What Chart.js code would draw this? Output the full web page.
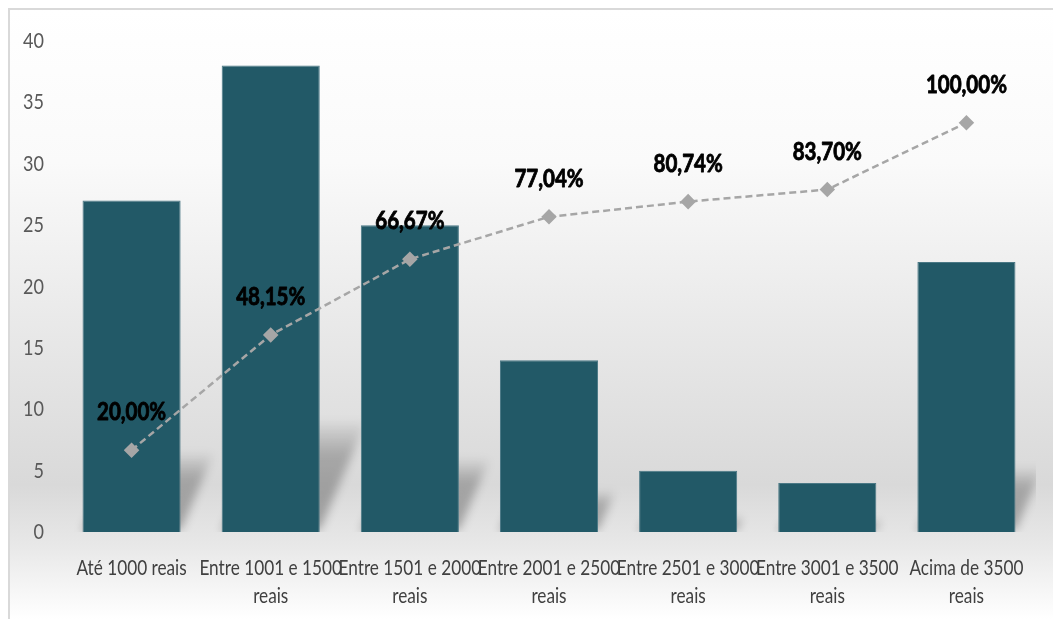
<!DOCTYPE html>
<html>
  <head>
    <meta charset="UTF-8" />
    <title>faixa de renda</title>
    <script src="https://cdn.jsdelivr.net/npm/chart.js@4"></script>
    <style>
      body { margin: 0; background: #fff; }
      #box { position: absolute; left: 8px; top: 8px; width: 1045px; height: 611px; border-top: 2px solid #d9d9d9; border-left: 2px solid #d9d9d9; }
    </style>
  </head>
  <body>
    <div id="box"><canvas id="chart" width="1043" height="609"></canvas></div>
    <script>
      const categories = [
        ['Até 1000 reais'],
        ['Entre 1001 e 1500', 'reais'],
        ['Entre 1501 e 2000', 'reais'],
        ['Entre 2001 e 2500', 'reais'],
        ['Entre 2501 e 3000', 'reais'],
        ['Entre 3001 e 3500', 'reais'],
        ['Acima de 3500', 'reais']
      ]
      const counts = [27, 38, 25, 14, 5, 4, 22]
      const cumulative = [20.00, 48.15, 66.67, 77.04, 80.74, 83.70, 100.00]
      const yTicks = [0, 5, 10, 15, 20, 25, 30, 35, 40]

      const FONT = "Lato, 'Open Sans', sans-serif"
      // the original text is a narrow (Calibri like) face, so text is squeezed a bit
      const SQUEEZE = 0.82

      const narrowText = {
        id: 'narrowText',
        beforeInit(chart) {
          const ctx = chart.ctx
          const fill = ctx.fillText.bind(ctx)
          const stroke = ctx.strokeText.bind(ctx)
          ctx.fillText = function (text, x, y, maxWidth) {
            const w = ctx.measureText(text).width * SQUEEZE
            fill(text, x, y, maxWidth ? Math.min(maxWidth, w) : w)
          }
          ctx.strokeText = function (text, x, y, maxWidth) {
            const w = ctx.measureText(text).width * SQUEEZE
            stroke(text, x, y, maxWidth ? Math.min(maxWidth, w) : w)
          }
        }
      }

      // gray gradient backdrop of the chart
      const backdrop = {
        id: 'backdrop',
        beforeDraw(chart) {
          const ctx = chart.ctx
          const h = chart.height
          const g = ctx.createLinearGradient(0, 0, 0, h)
          g.addColorStop(0, '#ffffff')
          g.addColorStop(0.25, '#fafafa')
          g.addColorStop(0.5, '#eaeaea')
          g.addColorStop(0.78, '#d9d9d9')
          g.addColorStop(0.88, '#e8e8e8')
          g.addColorStop(1, '#ffffff')
          ctx.save()
          ctx.fillStyle = g
          ctx.fillRect(0, 0, chart.width, h)
          ctx.restore()
        }
      }

      // soft perspective shadow behind every bar
      const barShadow = {
        id: 'barShadow',
        beforeDatasetsDraw(chart) {
          const ctx = chart.ctx
          const area = chart.chartArea
          const meta = chart.getDatasetMeta(0)
          ctx.save()
          ctx.beginPath()
          ctx.rect(area.left, area.top, area.right - area.left, area.bottom - area.top)
          ctx.clip()
          ctx.filter = 'blur(5px)'
          meta.data.forEach(function (bar) {
            const x0 = bar.x - bar.width / 2
            const x1 = bar.x + bar.width / 2
            const base = bar.base
            const sh = (base - bar.y) * 0.235
            const dx = sh * 0.42
            const g = ctx.createLinearGradient(0, base, 0, base - sh)
            g.addColorStop(0, 'rgba(0,0,0,0.30)')
            g.addColorStop(0.7, 'rgba(0,0,0,0.24)')
            g.addColorStop(1, 'rgba(0,0,0,0.03)')
            ctx.fillStyle = g
            ctx.beginPath()
            ctx.moveTo(x0, base)
            ctx.lineTo(x1, base - 2)
            ctx.lineTo(x1 + dx, base - sh)
            ctx.lineTo(x0 + dx, base - sh)
            ctx.closePath()
            ctx.fill()
          })
          ctx.restore()
        }
      }

      // percentage labels above the line points
      const pctLabels = {
        id: 'pctLabels',
        afterDatasetsDraw(chart) {
          const ctx = chart.ctx
          const meta = chart.getDatasetMeta(1)
          ctx.save()
          ctx.font = 'bold 25px ' + FONT
          ctx.fillStyle = '#000000'
          ctx.strokeStyle = '#000000'
          ctx.lineWidth = 0.9
          ctx.lineJoin = 'round'
          ctx.textAlign = 'center'
          ctx.textBaseline = 'middle'
          meta.data.forEach(function (pt, i) {
            const txt = cumulative[i].toFixed(2).replace('.', ',') + '%'
            ctx.fillText(txt, pt.x, pt.y - 38)
            ctx.strokeText(txt, pt.x, pt.y - 38)
          })
          ctx.restore()
        }
      }

      const draw = function () {
        const context = document.querySelector('#chart').getContext('2d')
        window.chart = new Chart(context, {
          type: 'bar',
          data: {
            labels: categories,
            datasets: [
              {
                type: 'bar',
                data: counts,
                backgroundColor: '#225967',
                borderColor: '#4a7885',
                borderWidth: 1,
                barPercentage: 0.705,
                categoryPercentage: 1,
                yAxisID: 'y',
                order: 1
              },
              {
                type: 'line',
                data: cumulative,
                borderColor: '#a6a6a6',
                borderWidth: 2.5,
                borderDash: [7, 4],
                pointStyle: 'rectRot',
                pointRadius: 6,
                pointBackgroundColor: '#a6a6a6',
                pointBorderColor: '#a6a6a6',
                yAxisID: 'y1',
                order: 0
              }
            ]
          },
          options: {
            responsive: false,
            animation: false,
            layout: { padding: { top: 31, right: 17, bottom: 0, left: 0 } },
            plugins: {
              legend: { display: false },
              tooltip: { enabled: false }
            },
            scales: {
              x: {
                grid: { display: false },
                border: { display: false },
                ticks: {
                  color: '#404040',
                  font: { family: FONT, size: 21, lineHeight: 1.33 },
                  padding: 14,
                  maxRotation: 0,
                  autoSkip: false
                },
                afterFit: function (s) { s.height = 87 }
              },
              y: {
                min: 0,
                max: 40,
                grid: { display: false },
                border: { display: false },
                afterBuildTicks: function (s) { s.ticks = yTicks.map(v => ({ value: v })) },
                ticks: {
                  color: '#595959',
                  font: { family: FONT, size: 22 },
                  padding: 10
                },
                afterFit: function (s) { s.width = 52 }
              },
              y1: {
                display: false,
                min: 0,
                max: 120
              }
            }
          },
          plugins: [narrowText, backdrop, barShadow, pctLabels]
        })
      }
      window.onload = function () {
        draw()
      }
    </script>
  </body>
</html>
